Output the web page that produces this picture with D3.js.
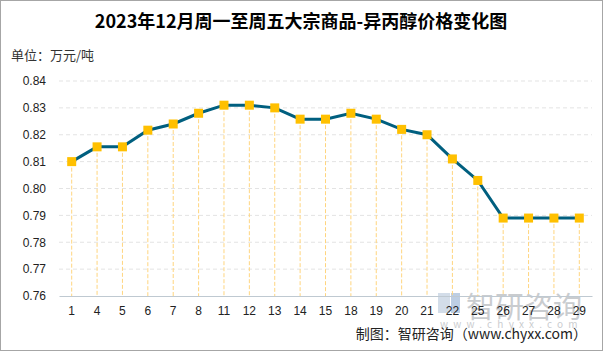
<!DOCTYPE html>
<html>
<head>
<meta charset="utf-8">
<script src="https://cdn.jsdelivr.net/npm/d3@7"></script>
<style>
  body { margin: 0; background: #fff; }
  svg { display: block; font-family: "Noto Sans CJK SC", "Microsoft YaHei", sans-serif; }
</style>
</head>
<body>
<svg id="chart"></svg>
<script>
// dates (day of Dec 2023) and price, 万元/吨
const days = ["1", "4", "5", "6", "7", "8", "11", "12", "13", "14", "15", "18", "19", "20", "21", "22", "25", "26", "27", "28", "29"];
const prices = [0.810, 0.8155, 0.8155, 0.8217, 0.824, 0.828, 0.831, 0.831, 0.830, 0.8258, 0.8258, 0.828, 0.8258, 0.822, 0.820, 0.811, 0.803, 0.789, 0.789, 0.789, 0.789];
const yTicks = [0.76, 0.77, 0.78, 0.79, 0.80, 0.81, 0.82, 0.83, 0.84];

const W = 603, H = 351;
const margin = { top: 81, right: 11, bottom: 55, left: 59 };
const width = W - margin.left - margin.right;
const height = H - margin.top - margin.bottom;

const svg = d3.select("#chart").attr("width", W).attr("height", H);

// outer frame
svg.append("rect")
  .attr("x", 0.5).attr("y", 0.5)
  .attr("width", W - 1).attr("height", H - 1)
  .attr("fill", "#fff").attr("stroke", "#a6a6a6");

svg.append("text")
  .attr("x", 301).attr("y", 28)
  .attr("text-anchor", "middle")
  .style("font-size", "18px").style("font-weight", "bold")
  .text("2023年12月周一至周五大宗商品-异丙醇价格变化图");

svg.append("text")
  .attr("x", 11).attr("y", 60)
  .style("font-size", "13px").attr("fill", "#333")
  .text("单位：万元/吨");

// watermark
const wm = svg.append("g").attr("opacity", 0.45);
wm.append("rect").attr("x", 438).attr("y", 293).attr("width", 12).attr("height", 20).attr("fill", "#9fb4cf");
wm.append("rect").attr("x", 451).attr("y", 293).attr("width", 9).attr("height", 20).attr("fill", "#6f93c3");
wm.append("text")
  .attr("x", 466).attr("y", 318)
  .style("font-size", "29px").attr("fill", "#8a8f96")
  .text("智研咨询");
wm.append("text")
  .attr("x", 440).attr("y", 328)
  .style("font-size", "10px").style("letter-spacing", "5.2px").attr("fill", "#8a8f96")
  .text("www.chyxx.com");

const g = svg.append("g").attr("transform", `translate(${margin.left},${margin.top})`);

const x = d3.scaleBand().domain(days).range([0, width]);
const y = d3.scaleLinear().domain([0.76, 0.84]).range([height, 0]);
const cx = d => x(d) + x.bandwidth() / 2;

// gridlines
g.selectAll(".grid").data(yTicks.slice(1)).join("line")
  .attr("x1", 0).attr("x2", width)
  .attr("y1", d => y(d)).attr("y2", d => y(d))
  .attr("stroke", "#e3e3e3").attr("stroke-dasharray", "4,3");

// y axis labels
const yAxis = g.append("g")
  .call(d3.axisLeft(y).tickValues(yTicks).tickFormat(d3.format(".2f")).tickSize(0).tickPadding(13));
yAxis.select(".domain").remove();
yAxis.selectAll("text").style("font-size", "12px").attr("fill", "#222")
  .style("font-family", "'Liberation Sans', Arial, sans-serif");

// drop lines
g.selectAll(".drop").data(days).join("line")
  .attr("x1", d => cx(d)).attr("x2", d => cx(d))
  .attr("y1", (d, i) => y(prices[i])).attr("y2", height)
  .attr("stroke", "#ffd57f").attr("stroke-dasharray", "4,2");

// x axis
const xAxis = g.append("g").attr("transform", `translate(0,${height})`)
  .call(d3.axisBottom(x).tickSize(0).tickPadding(10));
xAxis.select(".domain").attr("stroke", "#bfc9d1");
xAxis.selectAll("text").style("font-size", "12px").attr("fill", "#222")
  .style("font-family", "'Liberation Sans', Arial, sans-serif");

// price line
const line = d3.line().x((d, i) => cx(days[i])).y(d => y(d));
g.append("path").datum(prices)
  .attr("d", line)
  .attr("fill", "none").attr("stroke", "#005f7f").attr("stroke-width", 3);

g.selectAll(".pt").data(prices).join("rect")
  .attr("x", (d, i) => cx(days[i]) - 4.5)
  .attr("y", d => y(d) - 4.5)
  .attr("width", 9).attr("height", 9)
  .attr("fill", "#ffc000");

svg.append("text")
  .attr("x", 587).attr("y", 339)
  .attr("text-anchor", "end")
  .style("font-size", "14px").attr("fill", "#222")
  .text("制图：智研咨询（www.chyxx.com）");
</script>
</body>
</html>
